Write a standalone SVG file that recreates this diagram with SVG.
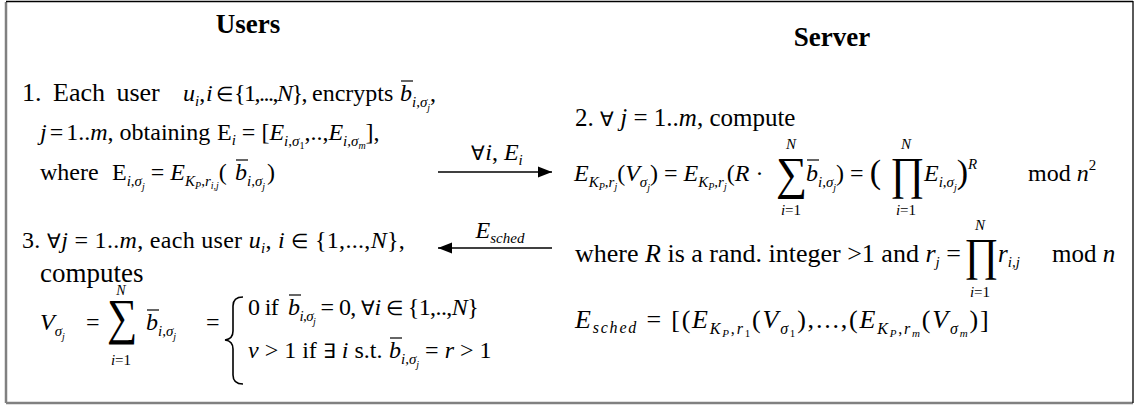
<svg xmlns="http://www.w3.org/2000/svg" width="1138" height="410" viewBox="0 0 1138 410">
<defs>
<style>
svg{font-size:24px}
text{font-family:"Liberation Serif","Times New Roman",serif;fill:#000}
.b{font-weight:bold;font-size:27px}
.i{font-style:italic}
.s{font-size:15px}
.ss{font-size:10px}
.sym{font-size:20px}
.par{font-size:34px}
.ov{stroke:#000;stroke-width:1.2}
.cn{stroke:#000;stroke-width:1.3}
</style>
<marker id="ah" viewBox="0 0 10 10" refX="10" refY="5" markerWidth="14" markerHeight="14" markerUnits="userSpaceOnUse" orient="auto"><path d="M0,1 L10,5 L0,9 Z" fill="#000"/></marker>
</defs>
<rect x="0" y="0" width="1138" height="410" fill="#fff"/>
<g id="frame">
<line x1="6" y1="2" x2="6" y2="403" stroke="#808080" stroke-width="2.5"/>
<line x1="6" y1="403" x2="1133" y2="403" stroke="#808080" stroke-width="2.5"/>
<line x1="6" y1="1.5" x2="1133" y2="1.5" stroke="#000" stroke-width="1.3"/>
<line x1="1133" y1="1" x2="1133" y2="403" stroke="#000" stroke-width="1.3"/>
</g>
<g id="users">
<text class="b" x="248" y="33" text-anchor="middle">Users</text>
<text x="22" y="101"><tspan font-size="26" word-spacing="5">1. Each user</tspan><tspan class="i" x="183">u</tspan><tspan class="i s" dy="5">i</tspan><tspan dy="-5">,</tspan><tspan class="i" x="206">i</tspan><tspan class="sym" x="216">∈</tspan><tspan x="234" letter-spacing="-1.5">{1,...,<tspan class="i">N</tspan>},</tspan><tspan x="312">encrypts</tspan><tspan class="i" x="400">b</tspan><tspan class="i s" dy="6">i</tspan><tspan class="s">,</tspan><tspan class="i s">σ</tspan><tspan class="i ss" dy="4">j</tspan><tspan dy="-10">,</tspan></text>
<line class="ov" x1="401" y1="81" x2="413" y2="81"/>
<text x="40" y="140"><tspan class="i">j</tspan><tspan dx="3">=</tspan><tspan dx="3">1..</tspan><tspan class="i">m</tspan>, obtaining <tspan x="217">E</tspan><tspan class="i s" dy="5">i</tspan><tspan dy="-5"> = [</tspan><tspan class="i">E</tspan><tspan class="i s" dy="6">i</tspan><tspan class="s">,</tspan><tspan class="i s">σ</tspan><tspan class="ss" dy="3">1</tspan><tspan dy="-9">,..,</tspan><tspan class="i">E</tspan><tspan class="i s" dy="6">i</tspan><tspan class="s">,</tspan><tspan class="i s">σ</tspan><tspan class="i ss" dy="3">m</tspan><tspan dy="-9">],</tspan></text>
<text x="40" y="180">where  <tspan x="112">E</tspan><tspan class="i s" dy="6">i</tspan><tspan class="s">,</tspan><tspan class="i s">σ</tspan><tspan class="i ss" dy="4">j</tspan><tspan dy="-10"> = </tspan><tspan class="i">E</tspan><tspan class="i s" dy="6">K</tspan><tspan class="i ss" dy="3">P</tspan><tspan class="s" dy="-3">,</tspan><tspan class="i s">r</tspan><tspan class="i ss" dy="3">i,j</tspan><tspan dy="-9">(</tspan><tspan class="i" x="235">b</tspan><tspan class="i s" dy="6">i</tspan><tspan class="s">,</tspan><tspan class="i s">σ</tspan><tspan class="i ss" dy="4">j</tspan><tspan dy="-10" dx="2">)</tspan></text>
<line class="ov" x1="236" y1="160" x2="248" y2="160"/>
<text x="22" y="248" letter-spacing="0.3">3. <tspan class="sym">∀</tspan><tspan class="i">j</tspan> = 1..<tspan class="i">m</tspan>,  each user <tspan class="i">u</tspan><tspan class="i s" dy="5">i</tspan><tspan dy="-5">, </tspan><tspan class="i">i</tspan> <tspan class="sym">∈</tspan> {1,...,<tspan class="i">N</tspan>},</text>
<text x="40" y="282" font-size="27">computes</text>
<text x="40" y="330"><tspan class="i">V</tspan><tspan class="i s" dy="6">σ</tspan><tspan class="i ss" dy="4">j</tspan><tspan dy="-10" x="86">=</tspan></text>
<text transform="translate(107,334) scale(0.85,1)" font-size="50">∑</text>
<text x="121" y="295" font-size="14" class="i" text-anchor="middle">N</text>
<text x="121" y="365" class="s" text-anchor="middle"><tspan class="i">i</tspan>=1</text>
<text x="146" y="330"><tspan class="i">b</tspan><tspan class="i s" dy="6">i</tspan><tspan class="s">,</tspan><tspan class="i s">σ</tspan><tspan class="i ss" dy="4">j</tspan><tspan dy="-10" x="206">=</tspan></text>
<line class="ov" x1="147" y1="310" x2="159" y2="310"/>
<path d="M243,297 Q233,297 233,306 L233,331 Q233,339 225,340 Q233,341 233,349 L233,375 Q233,384 243,384" fill="none" stroke="#000" stroke-width="1.6"/>
<text x="248" y="315" letter-spacing="-0.6">0  if <tspan class="i" x="288">b</tspan><tspan class="i s" dy="6">i</tspan><tspan class="s">,</tspan><tspan class="i s">σ</tspan><tspan class="i ss" dy="4">j</tspan><tspan dy="-10"> = 0, </tspan><tspan class="sym">∀</tspan><tspan class="i">i</tspan> <tspan class="sym">∈</tspan> {1,..,<tspan class="i">N</tspan>}</text>
<line class="ov" x1="289" y1="295" x2="301" y2="295"/>
<text x="248" y="358"><tspan class="i">v</tspan> &gt; 1  if  <tspan class="sym">∃</tspan> <tspan class="i">i</tspan> s.t. <tspan class="i" x="389">b</tspan><tspan class="i s" dy="6">i</tspan><tspan class="s">,</tspan><tspan class="i s">σ</tspan><tspan class="i ss" dy="4">j</tspan><tspan dy="-10"> = </tspan><tspan class="i">r</tspan> &gt; 1</text>
<line class="ov" x1="390" y1="338" x2="402" y2="338"/>
</g>
<g id="server">
<text class="b" x="832" y="46" text-anchor="middle">Server</text>
<text x="575" y="126" font-size="25">2. <tspan class="sym">∀</tspan> <tspan class="i">j</tspan> = 1..<tspan class="i">m</tspan>,  compute</text>
<text x="574" y="181"><tspan class="i">E</tspan><tspan class="i s" dy="6">K</tspan><tspan class="i ss" dy="3">P</tspan><tspan class="s" dy="-3">,</tspan><tspan class="i s">r</tspan><tspan class="i ss" dy="3">j</tspan><tspan dy="-9">(</tspan><tspan class="i">V</tspan><tspan class="i s" dy="6">σ</tspan><tspan class="i ss" dy="4">j</tspan><tspan dy="-10">) = </tspan><tspan class="i">E</tspan><tspan class="i s" dy="6">K</tspan><tspan class="i ss" dy="3">P</tspan><tspan class="s" dy="-3">,</tspan><tspan class="i s">r</tspan><tspan class="i ss" dy="3">j</tspan><tspan dy="-9">(</tspan><tspan class="i">R</tspan> · </text>
<text transform="translate(776,189) scale(0.95,1)" font-size="46">∑</text>
<text x="791" y="149" class="s i" text-anchor="middle">N</text>
<text x="791" y="215" class="s" text-anchor="middle"><tspan class="i">i</tspan>=1</text>
<text x="806" y="181"><tspan class="i">b</tspan><tspan class="i s" dy="6">i</tspan><tspan class="s">,</tspan><tspan class="i s">σ</tspan><tspan class="i ss" dy="4">j</tspan><tspan dy="-10">) = </tspan><tspan class="par" dy="2">(</tspan></text>
<line class="ov" x1="807" y1="160" x2="819" y2="160"/>
<text transform="translate(890,189) scale(0.9,1)" font-size="46">∏</text>
<text x="906" y="149" class="s i" text-anchor="middle">N</text>
<text x="906" y="215" class="s" text-anchor="middle"><tspan class="i">i</tspan>=1</text>
<text x="924" y="181"><tspan class="i">E</tspan><tspan class="i s" dy="6">i</tspan><tspan class="s">,</tspan><tspan class="i s">σ</tspan><tspan class="i ss" dy="4">j</tspan><tspan dy="-8" class="par">)</tspan><tspan class="i s" dy="-14">R</tspan><tspan dy="12" x="1028">mod</tspan><tspan class="i"> n</tspan><tspan class="s" dy="-11">2</tspan></text>
<text x="575" y="262" font-size="26">where <tspan class="i">R</tspan> is a rand. integer &gt;1 and <tspan class="i">r</tspan><tspan class="i s" dy="5">j</tspan><tspan dy="-5"> = </tspan></text>
<text transform="translate(964,270) scale(0.9,1)" font-size="46">∏</text>
<text x="980" y="230" class="s i" text-anchor="middle">N</text>
<text x="980" y="297" class="s" text-anchor="middle"><tspan class="i">i</tspan>=1</text>
<text x="998" y="262" font-size="25"><tspan class="i">r</tspan><tspan class="i s" dy="5">i,j</tspan><tspan dy="-5" x="1052">mod</tspan><tspan class="i"> n</tspan></text>
<text x="575" y="328" font-size="26" letter-spacing="1.8"><tspan class="i">E</tspan><tspan class="i" font-size="16" dy="5">sched</tspan><tspan dy="-5"> = [(</tspan><tspan class="i">E</tspan><tspan class="i" font-size="16" dy="6">K</tspan><tspan class="i" font-size="11" dy="3">P</tspan><tspan font-size="16" dy="-3">,</tspan><tspan class="i" font-size="16">r</tspan><tspan font-size="11" dy="3">1</tspan><tspan dy="-9">(</tspan><tspan class="i">V</tspan><tspan class="i" font-size="16" dy="6">σ</tspan><tspan font-size="11" dy="3">1</tspan><tspan dy="-9">),...,(</tspan><tspan class="i">E</tspan><tspan class="i" font-size="16" dy="6">K</tspan><tspan class="i" font-size="11" dy="3">P</tspan><tspan font-size="16" dy="-3">,</tspan><tspan class="i" font-size="16">r</tspan><tspan class="i" font-size="11" dy="3">m</tspan><tspan dy="-9">(</tspan><tspan class="i">V</tspan><tspan class="i" font-size="16" dy="6">σ</tspan><tspan class="i" font-size="11" dy="3">m</tspan><tspan dy="-9">)]</tspan></text>
</g>
<g id="connectors">
<line class="cn" x1="438" y1="172" x2="552" y2="172" marker-end="url(#ah)"/>
<text x="497" y="160" text-anchor="middle"><tspan class="sym">∀</tspan><tspan class="i">i</tspan>, <tspan class="i">E</tspan><tspan class="i s" dy="5">i</tspan></text>
<line class="cn" x1="552" y1="248" x2="438" y2="248" marker-end="url(#ah)"/>
<text x="500" y="238" text-anchor="middle"><tspan class="i">E</tspan><tspan class="i s" dy="5">sched</tspan></text>
</g>
</svg>
